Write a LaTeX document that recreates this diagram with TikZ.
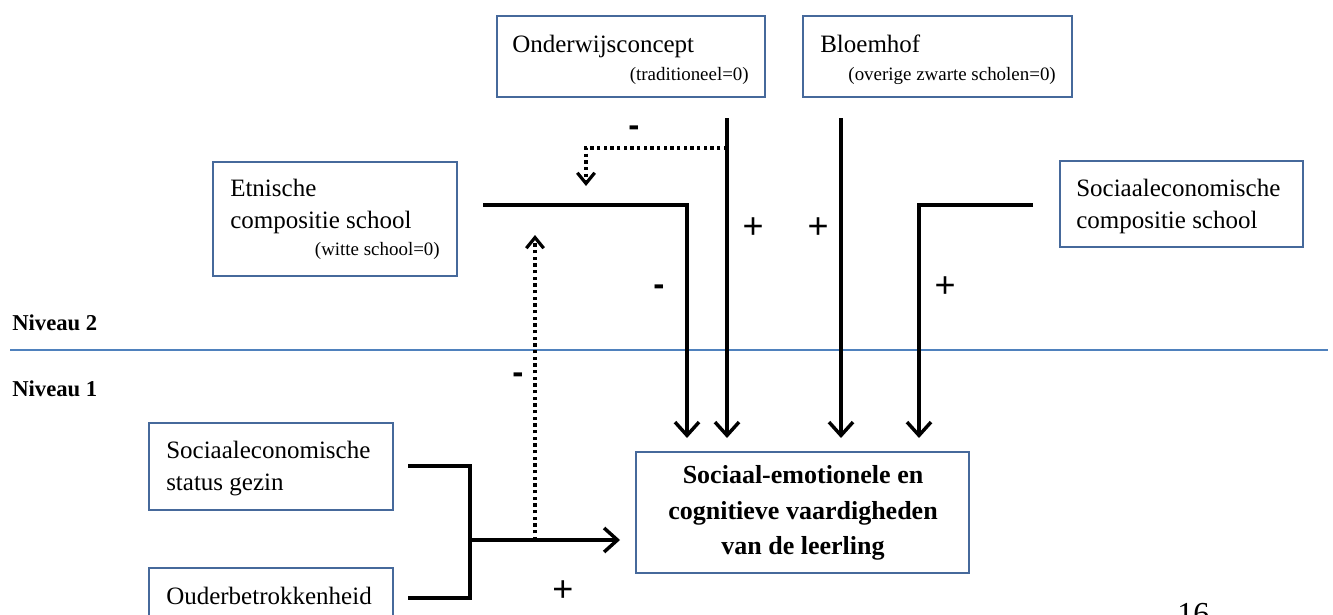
\documentclass[tikz,border=0pt]{standalone}
\usepackage{fontspec}
\setmainfont{Liberation Serif}
\newfontfamily\signfont{Liberation Sans}
\usetikzlibrary{arrows.meta,fit}
\definecolor{boxblue}{RGB}{70,105,155}
\definecolor{lineblue}{RGB}{79,129,189}
\begin{document}
\begin{tikzpicture}[x=0.75pt,y=-0.75pt,
 box/.style={draw=boxblue,line width=1.1pt,inner sep=0pt},
 lbl/.style={font=\fontsize{18.75}{24.75}\selectfont,anchor=base west,inner sep=0pt},
 sub/.style={font=\fontsize{14.2}{16}\selectfont,anchor=base east,inner sep=0pt},
 lvl/.style={font=\bfseries\fontsize{17}{20}\selectfont,anchor=base west,inner sep=0pt},
 conn/.style={line width=3pt},
 arr/.style={conn,-{Straight Barb[length=10pt,width=18pt,line width=2.6pt]}},
 dotline/.style={line width=2.6pt,dash pattern=on 2.6pt off 2.4pt},
 darr/.style={dotline,-{Straight Barb[length=8pt,width=13pt,line width=2.4pt]}},
 minus/.style={font=\signfont\bfseries\fontsize{25}{27}\selectfont,inner sep=0pt},
 plus/.style={font=\signfont\fontsize{27}{29}\selectfont,inner sep=0pt}
]
\useasboundingbox (0,0) rectangle (1333,614);
\clip (0,0) rectangle (1333,614);

% boxes
\node[box,fit={(497,16) (765,97)}] (onder) {};
\node[box,fit={(803,16) (1072,97)}] (bloem) {};
\node[box,fit={(213,162) (457,276)}] (etn) {};
\node[box,fit={(1060,161) (1303,247)}] (sesc) {};
\node[box,fit={(149,423) (393,510)}] (sesg) {};
\node[box,fit={(149,568) (393,630)}] (ouder) {};
\node[box,fit={(636,452) (969,573)}] (out) {};

% texts
\node[lbl] (t1) at (512,52) {Onderwijsconcept};
\node[sub] (t1s) at (749,80) {(traditioneel=0)};
\node[lbl] (t2) at (820,52) {Bloemhof};
\node[sub] (t2s) at (1056,80) {(overige zwarte scholen=0)};
\node[lbl] (t3a) at (230,196) {Etnische};
\node[lbl] (t3b) at (230,228) {compositie school};
\node[sub] (t3s) at (440,255) {(witte school=0)};
\node[lbl] (t4a) at (1076,196) {Sociaaleconomische};
\node[lbl] (t4b) at (1076,228) {compositie school};
\node[lbl] (t5a) at (166,458) {Sociaaleconomische};
\node[lbl] (t5b) at (166,490) {status gezin};
\node[lbl] (t6) at (166,604) {Ouderbetrokkenheid};
\node[font=\bfseries\fontsize{19.5}{26.6}\selectfont,align=center,inner sep=0pt,anchor=center] (t7) at (803,513)
  {Sociaal-emotionele en\\cognitieve vaardigheden\\van de leerling};

% levels
\node[lvl] (n2) at (12,330) {Niveau 2};
\node[lvl] (n1) at (12,396) {Niveau 1};
\coordinate (sepL) at (10,350);
\coordinate (sepR) at (1328,350);
\draw[lineblue,line width=1.1pt] (sepL) -- (sepR);

% connector coordinates
\coordinate (etnS) at (483,205);
\coordinate (etnE) at (687,438);
\coordinate (ondS) at (727,118);
\coordinate (ondE) at (727,438);
\coordinate (blS) at (841,118);
\coordinate (blE) at (841,438);
\coordinate (secS) at (1033,205);
\coordinate (secE) at (919,438);
\coordinate (dotS) at (727,148);
\coordinate (dotE) at (586,186);
\coordinate (gezS) at (408,466);
\coordinate (oudS) at (408,598);
\coordinate (join) at (470,540);
\coordinate (joinE) at (620,540);
\coordinate (dot2S) at (535,540);
\coordinate (dot2E) at (535,235);

\draw[arr] (etnS) -| (etnE);
\draw[arr] (ondS) -- (ondE);
\draw[arr] (blS) -- (blE);
\draw[arr] (secS) -| (secE);
\draw[conn] (gezS) -| (join |- oudS) -- (oudS);
\draw[arr] (join) -- (joinE);
\draw[darr] (dotS) -| (dotE);
\draw[darr] (dot2S) -- (dot2E);

% signs
\node[minus] (s1) at (634,131) {-};
\node[plus] (s2) at (753,228) {+};
\node[plus] (s3) at (818,228) {+};
\node[minus] (s4) at (659,290) {-};
\node[plus] (s5) at (945,287) {+};
\node[minus] (s6) at (518,378) {-};
\node[plus] (s7) at (563,591) {+};

% page number
\node[font=\fontsize{24}{26}\selectfont,anchor=base west,inner sep=0pt] (pg) at (1177,624) {16};
\end{tikzpicture}
\end{document}
